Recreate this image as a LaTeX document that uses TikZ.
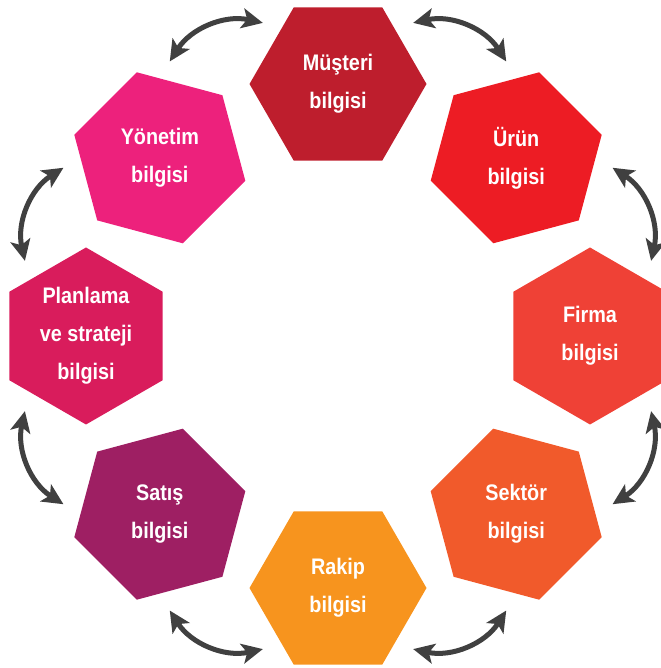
\documentclass[tikz,border=0pt]{standalone}
\usepackage{fontspec}
\setmainfont[FakeStretch=0.88]{Liberation Sans}
\usetikzlibrary{shapes.geometric,arrows.meta,calc}
\definecolor{cmus}{HTML}{BE1E2D}
\definecolor{curu}{HTML}{ED1C24}
\definecolor{cfir}{HTML}{EF4136}
\definecolor{csek}{HTML}{F15A2B}
\definecolor{crak}{HTML}{F7941E}
\definecolor{csat}{HTML}{9E1F63}
\definecolor{cpla}{HTML}{D91C5C}
\definecolor{cyon}{HTML}{ED217C}
\definecolor{arrgray}{HTML}{404040}
\begin{document}
\begin{tikzpicture}[x=1pt,y=1pt,
  hexa/.style={regular polygon, regular polygon sides=6, minimum size=177pt,
    inner sep=0pt, outer sep=0pt, draw=none, text=white, align=center,
    font=\fontsize{22.5}{38}\selectfont\bfseries},
  arr/.style={draw=arrgray, line width=5pt,
    {Stealth[length=21pt,width=20pt,inset=5pt]}-{Stealth[length=21pt,width=20pt,inset=5pt]}}]
\useasboundingbox (0,0) rectangle (660,668);
\coordinate (O) at (338,332);
\node[hexa, fill=cmus, shape border rotate=0]    (m) at ($(O)+(90:252)$)   {Müşteri\\bilgisi};
\node[hexa, fill=curu, shape border rotate=-45]  (u) at ($(O)+(45:252)$)   {Ürün\\bilgisi};
\node[hexa, fill=cfir, shape border rotate=-90]  (f) at ($(O)+(0:252)$)    {Firma\\bilgisi};
\node[hexa, fill=csek, shape border rotate=-135] (s) at ($(O)+(-45:252)$)  {Sektör\\bilgisi};
\node[hexa, fill=crak, shape border rotate=-180] (r) at ($(O)+(-90:252)$)  {Rakip\\bilgisi};
\node[hexa, fill=csat, shape border rotate=-225] (t) at ($(O)+(-135:252)$) {Satış\\bilgisi};
\node[hexa, fill=cpla, shape border rotate=-270] (p) at ($(O)+(180:252)$)  {Planlama\\ve strateji\\bilgisi};
\node[hexa, fill=cyon, shape border rotate=-315] (y) at ($(O)+(135:252)$)  {Yönetim\\bilgisi};
\foreach \k [evaluate=\k as \a using 67.5-45*\k] in {0,...,7}{
  \coordinate (as\k) at ($(O)+(\a+9:322)$);
  \coordinate (ae\k) at ($(O)+(\a-9:322)$);
  \draw[arr] (as\k) to[bend left=35] (ae\k);
}
\end{tikzpicture}
\end{document}
